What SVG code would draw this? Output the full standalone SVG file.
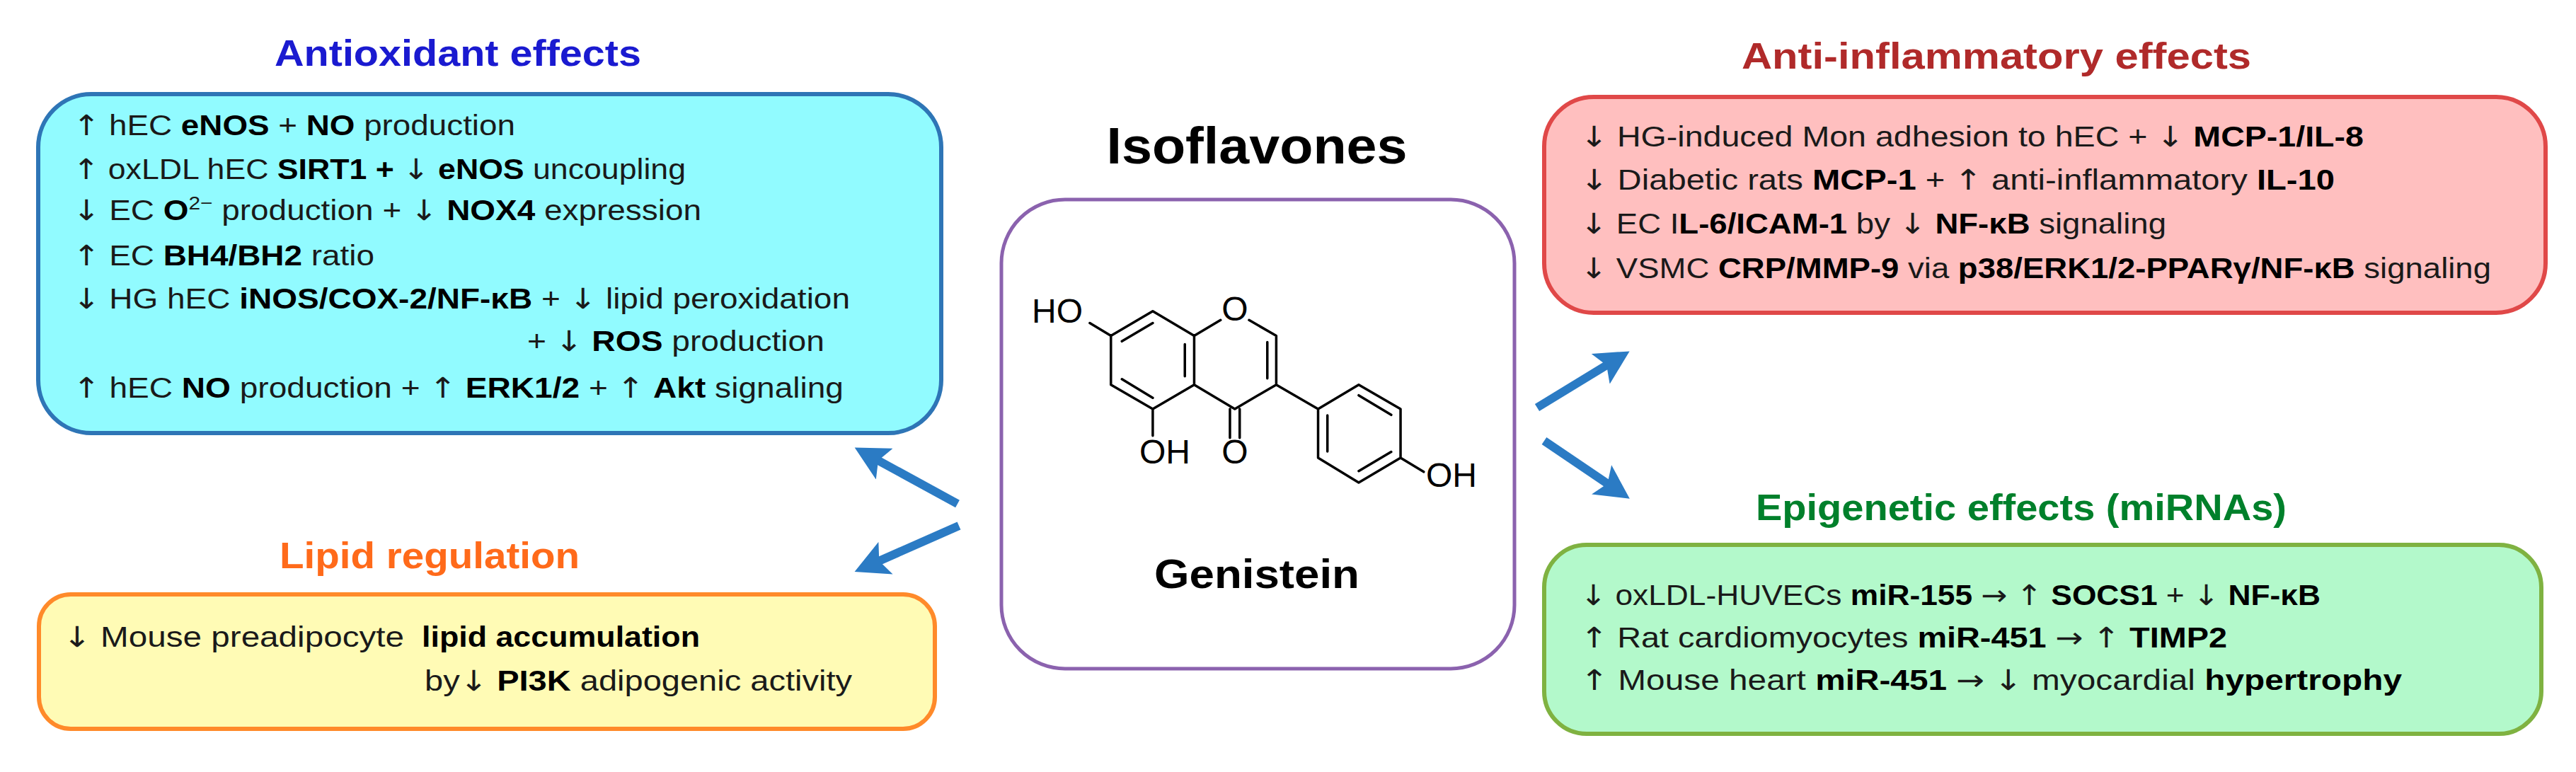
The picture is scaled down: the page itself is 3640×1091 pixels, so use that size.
<svg xmlns="http://www.w3.org/2000/svg" width="3640" height="1091" viewBox="0 0 3640 1091">
<style>
.t{font-family:"Liberation Sans",Arial,sans-serif;font-size:40px;fill:#1a1a1a}
.b{font-weight:bold;fill:#000}
.a{font-family:"DejaVu Sans",sans-serif;font-weight:normal}
.h{font-family:"Liberation Sans",Arial,sans-serif;font-weight:bold;font-size:52px;text-anchor:middle}
.m{font-family:"Liberation Sans",Arial,sans-serif;font-size:48px;fill:#000}
.bond{fill:none;stroke:#000;stroke-width:3.5;stroke-linecap:round;stroke-linejoin:round}
.arr{stroke:#2B7BC4;stroke-width:12;fill:none}
</style>
<defs>
<marker id="ah" markerUnits="userSpaceOnUse" markerWidth="50" markerHeight="50" refX="18" refY="25" orient="auto">
<path d="M0,0 L48,25 L0,50 L10,25 z" fill="#2B7BC4"/>
</marker>
</defs>
<rect width="3640" height="1091" fill="#fff"/>

<g id="antioxidant">
<text class="h" x="647" y="93" fill="#1a1ad0" textLength="518" lengthAdjust="spacingAndGlyphs">Antioxidant effects</text>
<rect x="54" y="133" width="1276" height="479" rx="75" fill="#91FBFF" stroke="#2E75B6" stroke-width="6"/>
<text class="t" x="103" y="191" textLength="625" lengthAdjust="spacingAndGlyphs"><tspan class="a">↑</tspan> hEC <tspan class="b">eNOS</tspan> + <tspan class="b">NO</tspan> production</text>
<text class="t" x="103" y="253" textLength="866" lengthAdjust="spacingAndGlyphs"><tspan class="a">↑</tspan> oxLDL hEC <tspan class="b">SIRT1 +</tspan> <tspan class="a">↓</tspan> <tspan class="b">eNOS</tspan> uncoupling</text>
<text class="t" x="103" y="311" textLength="888" lengthAdjust="spacingAndGlyphs"><tspan class="a">↓</tspan> EC <tspan class="b">O</tspan><tspan font-size="26" dy="-15">2−</tspan><tspan dy="15"> production + </tspan><tspan class="a">↓</tspan> <tspan class="b">NOX4</tspan> expression</text>
<text class="t" x="103" y="375" textLength="426" lengthAdjust="spacingAndGlyphs"><tspan class="a">↑</tspan> EC <tspan class="b">BH4/BH2</tspan> ratio</text>
<text class="t" x="103" y="436" textLength="1098" lengthAdjust="spacingAndGlyphs"><tspan class="a">↓</tspan> HG hEC <tspan class="b">iNOS/COX-2/NF-κB</tspan> + <tspan class="a">↓</tspan> lipid peroxidation</text>
<text class="t" x="745" y="496" textLength="420" lengthAdjust="spacingAndGlyphs">+ <tspan class="a">↓</tspan> <tspan class="b">ROS</tspan> production</text>
<text class="t" x="103" y="562" textLength="1089" lengthAdjust="spacingAndGlyphs"><tspan class="a">↑</tspan> hEC <tspan class="b">NO</tspan> production + <tspan class="a">↑</tspan> <tspan class="b">ERK1/2</tspan> + <tspan class="a">↑</tspan> <tspan class="b">Akt</tspan> signaling</text>
</g>

<g id="lipid">
<text class="h" x="607" y="803" fill="#FF6A1A" textLength="424" lengthAdjust="spacingAndGlyphs">Lipid regulation</text>
<rect x="55" y="840" width="1266" height="190" rx="45" fill="#FFFBB5" stroke="#FF8A2A" stroke-width="6"/>
<text class="t" x="89" y="914" textLength="482" lengthAdjust="spacingAndGlyphs"><tspan class="a">↓</tspan> Mouse preadipocyte</text>
<text class="t b" x="596" y="914" textLength="393" lengthAdjust="spacingAndGlyphs">lipid accumulation</text>
<text class="t" x="600" y="976" textLength="604" lengthAdjust="spacingAndGlyphs">by<tspan class="a">↓</tspan> <tspan class="b">PI3K</tspan> adipogenic activity</text>
</g>

<g id="isoflavones">
<text class="h" x="1776" y="231" fill="#000" style="font-size:72px" textLength="425" lengthAdjust="spacingAndGlyphs">Isoflavones</text>
<rect x="1415" y="282" width="725" height="663" rx="90" fill="#fff" stroke="#8B62AE" stroke-width="5"/>
<g transform="translate(1300,150) scale(0.574,0.601)">
<path class="bond" vector-effect="non-scaling-stroke" d="M470,540 L573,482 L675,540 L675,655 L573,712 L470,655 Z M497,553 L573,510 M652,560 L652,635 M573,686 L497,642 M470,540 L418,510 M573,712 L573,775 M675,540 L740,503 M810,503 L877,540 L877,655 L775,712 L675,655 M855,555 L855,640 M763,712 L763,780 M787,712 L787,780 M877,655 L980,712 M980,712 L1080,655 L1183,712 L1183,827 L1080,885 L980,827 Z M1080,680 L1160,726 M1160,813 L1080,858 M1003,727 L1003,812 M1183,827 L1240,860"/>
</g>
<text class="m" x="1530" y="456" text-anchor="end">HO</text>
<text class="m" x="1745" y="453" text-anchor="middle">O</text>
<text class="m" x="1610" y="655">OH</text>
<text class="m" x="1745" y="655" text-anchor="middle">O</text>
<text class="m" x="2015" y="688">OH</text>
<text class="h" x="1776" y="831" fill="#000" style="font-size:58px" textLength="290" lengthAdjust="spacingAndGlyphs">Genistein</text>
</g>

<g id="antiinflammatory">
<text class="h" x="2821" y="97" fill="#B02A2A" textLength="720" lengthAdjust="spacingAndGlyphs">Anti-inflammatory effects</text>
<rect x="2182" y="137" width="1415" height="305" rx="70" fill="#FFBFBF" stroke="#E04848" stroke-width="6"/>
<text class="t" x="2233" y="207" textLength="1107" lengthAdjust="spacingAndGlyphs"><tspan class="a">↓</tspan> HG-induced Mon adhesion to hEC + <tspan class="a">↓</tspan> <tspan class="b">MCP-1/IL-8</tspan></text>
<text class="t" x="2233" y="268" textLength="1066" lengthAdjust="spacingAndGlyphs"><tspan class="a">↓</tspan> Diabetic rats <tspan class="b">MCP-1</tspan> + <tspan class="a">↑</tspan> anti-inflammatory <tspan class="b">IL-10</tspan></text>
<text class="t" x="2233" y="330" textLength="828" lengthAdjust="spacingAndGlyphs"><tspan class="a">↓</tspan> EC I<tspan class="b">L-6/ICAM-1</tspan> by <tspan class="a">↓</tspan> <tspan class="b">NF-κB</tspan> signaling</text>
<text class="t" x="2233" y="393" textLength="1287" lengthAdjust="spacingAndGlyphs"><tspan class="a">↓</tspan> VSMC <tspan class="b">CRP/MMP-9</tspan> via <tspan class="b">p38/ERK1/2-PPARγ/NF-κB</tspan> signaling</text>
</g>

<g id="epigenetic">
<text class="h" x="2856" y="735" fill="#00802B" textLength="750" lengthAdjust="spacingAndGlyphs">Epigenetic effects (miRNAs)</text>
<rect x="2182" y="770" width="1409" height="267" rx="60" fill="#B3F9CB" stroke="#7FB241" stroke-width="6"/>
<text class="t" x="2233" y="855" textLength="1046" lengthAdjust="spacingAndGlyphs"><tspan class="a">↓</tspan> oxLDL-HUVECs <tspan class="b">miR-155</tspan> <tspan class="a">→</tspan> <tspan class="a">↑</tspan> <tspan class="b">SOCS1</tspan> + <tspan class="a">↓</tspan> <tspan class="b">NF-κB</tspan></text>
<text class="t" x="2233" y="915" textLength="914" lengthAdjust="spacingAndGlyphs"><tspan class="a">↑</tspan> Rat cardiomyocytes <tspan class="b">miR-451</tspan> <tspan class="a">→</tspan> <tspan class="a">↑</tspan> <tspan class="b">TIMP2</tspan></text>
<text class="t" x="2233" y="975" textLength="1161" lengthAdjust="spacingAndGlyphs"><tspan class="a">↑</tspan> Mouse heart <tspan class="b">miR-451</tspan> <tspan class="a">→</tspan> <tspan class="a">↓</tspan> myocardial  <tspan class="b">hypertrophy</tspan></text>
</g>

<g id="connectors">
<line class="arr" x1="1353" y1="712" x2="1234" y2="647" marker-end="url(#ah)"/>
<line class="arr" x1="1355" y1="743" x2="1235" y2="796" marker-end="url(#ah)"/>
<line class="arr" x1="2172" y1="576" x2="2277" y2="512" marker-end="url(#ah)"/>
<line class="arr" x1="2182" y1="623" x2="2278" y2="688" marker-end="url(#ah)"/>
</g>
</svg>
